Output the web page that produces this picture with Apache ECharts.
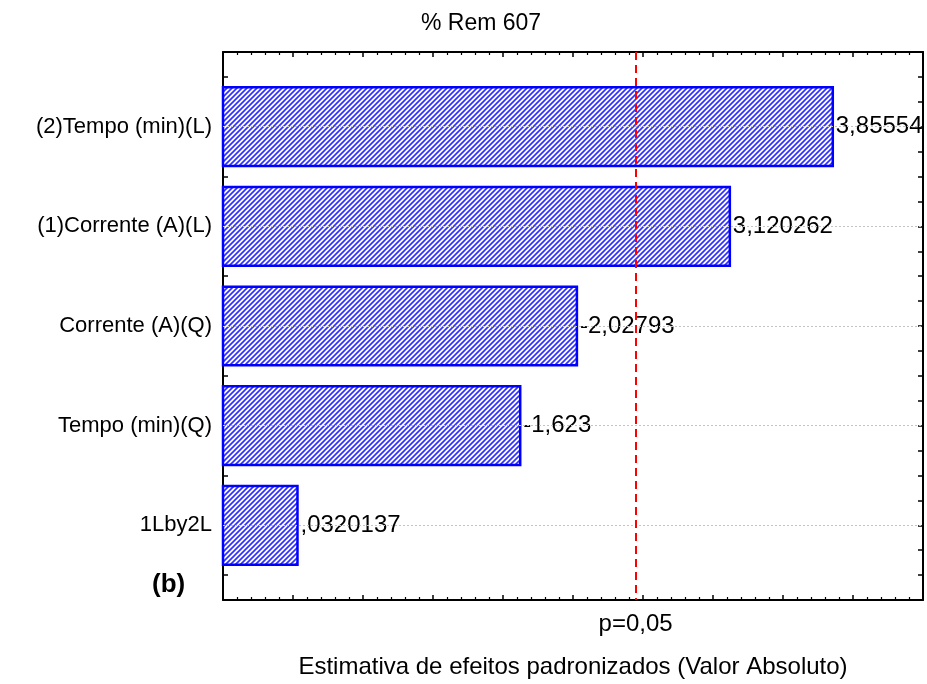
<!DOCTYPE html>
<html><head><meta charset="utf-8">
<script src="https://cdn.jsdelivr.net/npm/echarts@6/dist/echarts.min.js"></script>
<style>html,body{margin:0;padding:0;background:#fff}#c{width:927px;height:684px}</style>
</head><body><div id="c"></div>
<script>
// ---- data ----
const categories = ['(2)Tempo (min)(L)', '(1)Corrente (A)(L)', 'Corrente (A)(Q)', 'Tempo (min)(Q)', '1Lby2L'];
const effects = [3.85554, 3.120262, -2.02793, -1.623, 0.0320137];
const valueLabels = ['3,85554', '3,120262', '-2,02793', '-1,623', ',0320137'];
const positions = [1, 2, 3, 4, 5];
const pCritical = 2.4469;
const pLabel = 'p=0,05';
const chartTitle = '% Rem 607';
const panelTag = '(b)';
const xTitle = 'Estimativa de efeitos padronizados (Valor Absoluto)';
const xMin = -0.5, xMax = 4.5, xInterval = 0.5;
const yMin = 0.25, yMax = 5.75, yInterval = 0.25;

const FONT = "'Liberation Sans', Arial, sans-serif";

// hatch pattern
const T = 5;
const tile = document.createElement('canvas');
tile.width = T; tile.height = T;
const tc = tile.getContext('2d');
tc.fillStyle = '#ffffff'; tc.fillRect(0, 0, T, T);
tc.strokeStyle = '#3030ff'; tc.lineWidth = 1.7;
tc.beginPath();
tc.moveTo(-1, T + 1); tc.lineTo(T + 1, -1);
tc.moveTo(-1, 1); tc.lineTo(1, -1);
tc.moveTo(T - 1, T + 1); tc.lineTo(T + 1, T - 1);
tc.stroke();
const hatch = { image: tile, repeat: 'repeat' };

const barData = categories.map((c, i) => [Math.abs(effects[i]), positions[i]]);

const chart = echarts.init(document.getElementById('c'), null, { renderer: 'canvas' });

const commonX = {
  type: 'value', min: xMin, max: xMax, interval: xInterval,
  axisLine: { show: true, onZero: false, lineStyle: { color: '#000', width: 2 } },
  axisTick: { show: true, inside: true, length: 5, lineStyle: { color: '#000', width: 1.5 } },
  minorTick: { show: true, splitNumber: 5, length: 3, lineStyle: { color: '#000', width: 1.2 } },
  splitLine: { show: false },
  minorSplitLine: { show: false }
};
const commonY = {
  type: 'value', min: yMin, max: yMax, interval: yInterval, inverse: true,
  axisLine: { show: true, onZero: false, lineStyle: { color: '#000', width: 2 } },
  axisTick: { show: true, inside: true, length: 5, lineStyle: { color: '#000', width: 1.5 } },
  splitLine: { show: false }
};

chart.setOption({
  animation: false,
  backgroundColor: '#ffffff',
  title: [
    { text: chartTitle, left: 416, top: 7, textStyle: { fontFamily: FONT, fontSize: 23, fontWeight: 'normal', color: '#000' } },
    { text: panelTag, left: 147, top: 567, textStyle: { fontFamily: FONT, fontSize: 26, fontWeight: 'bold', color: '#000' } }
  ],
  grid: { left: 223, right: 4, top: 52, bottom: 83, containLabel: false },
  xAxis: [
    Object.assign({}, commonX, {
      position: 'bottom',
      name: xTitle, nameLocation: 'middle', nameGap: 55,
      nameTextStyle: { fontFamily: FONT, fontSize: 24, color: '#000' },
      axisLabel: {
        show: true, customValues: [pCritical], formatter: () => pLabel,
        margin: 12, fontFamily: FONT, fontSize: 24, color: '#000'
      }
    }),
    Object.assign({}, commonX, { position: 'top', axisLabel: { show: false } })
  ],
  yAxis: [
    Object.assign({}, commonY, {
      position: 'left',
      axisLabel: {
        show: true, customValues: positions,
        formatter: v => categories[positions.indexOf(Math.round(v))] || '',
        margin: 11, fontFamily: FONT, fontSize: 22, color: '#000'
      }
    }),
    Object.assign({}, commonY, { position: 'right', axisLabel: { show: false } })
  ],
  series: [
    {
      type: 'line', data: [], silent: true, z: 1,
      markLine: {
        silent: true, symbol: ['none', 'none'], animation: false,
        label: { show: false },
        lineStyle: { color: '#c4c4c4', type: [2, 2], width: 1 },
        data: positions.map(p => ({ yAxis: p }))
      }
    },
    {
      type: 'custom', z: 3,
      data: barData,
      renderItem: function (params, api) {
        const v = api.value(0), y = api.value(1);
        const start = api.coord([xMin, y]);
        const end = api.coord([v, y]);
        const h = api.size([0, 0.79])[1];
        return {
          type: 'group',
          children: [
            {
              type: 'rect',
              shape: { x: start[0], y: start[1] - h / 2, width: end[0] - start[0], height: h },
              style: { fill: hatch, stroke: '#0000ff', lineWidth: 2.5 }
            },
            {
              type: 'text',
              style: {
                x: end[0] + 3, y: end[1], text: valueLabels[params.dataIndex],
                fill: '#000', font: '24px ' + FONT, align: 'left', verticalAlign: 'middle'
              }
            }
          ]
        };
      }
    },
    {
      type: 'line', data: [], silent: true, z: 5,
      markLine: {
        silent: true, symbol: ['none', 'none'], animation: false,
        label: { show: false },
        lineStyle: { color: '#ff0000', type: [8, 5], width: 2 },
        data: [{ xAxis: pCritical }]
      }
    }
  ]
});
</script>
</body></html>
